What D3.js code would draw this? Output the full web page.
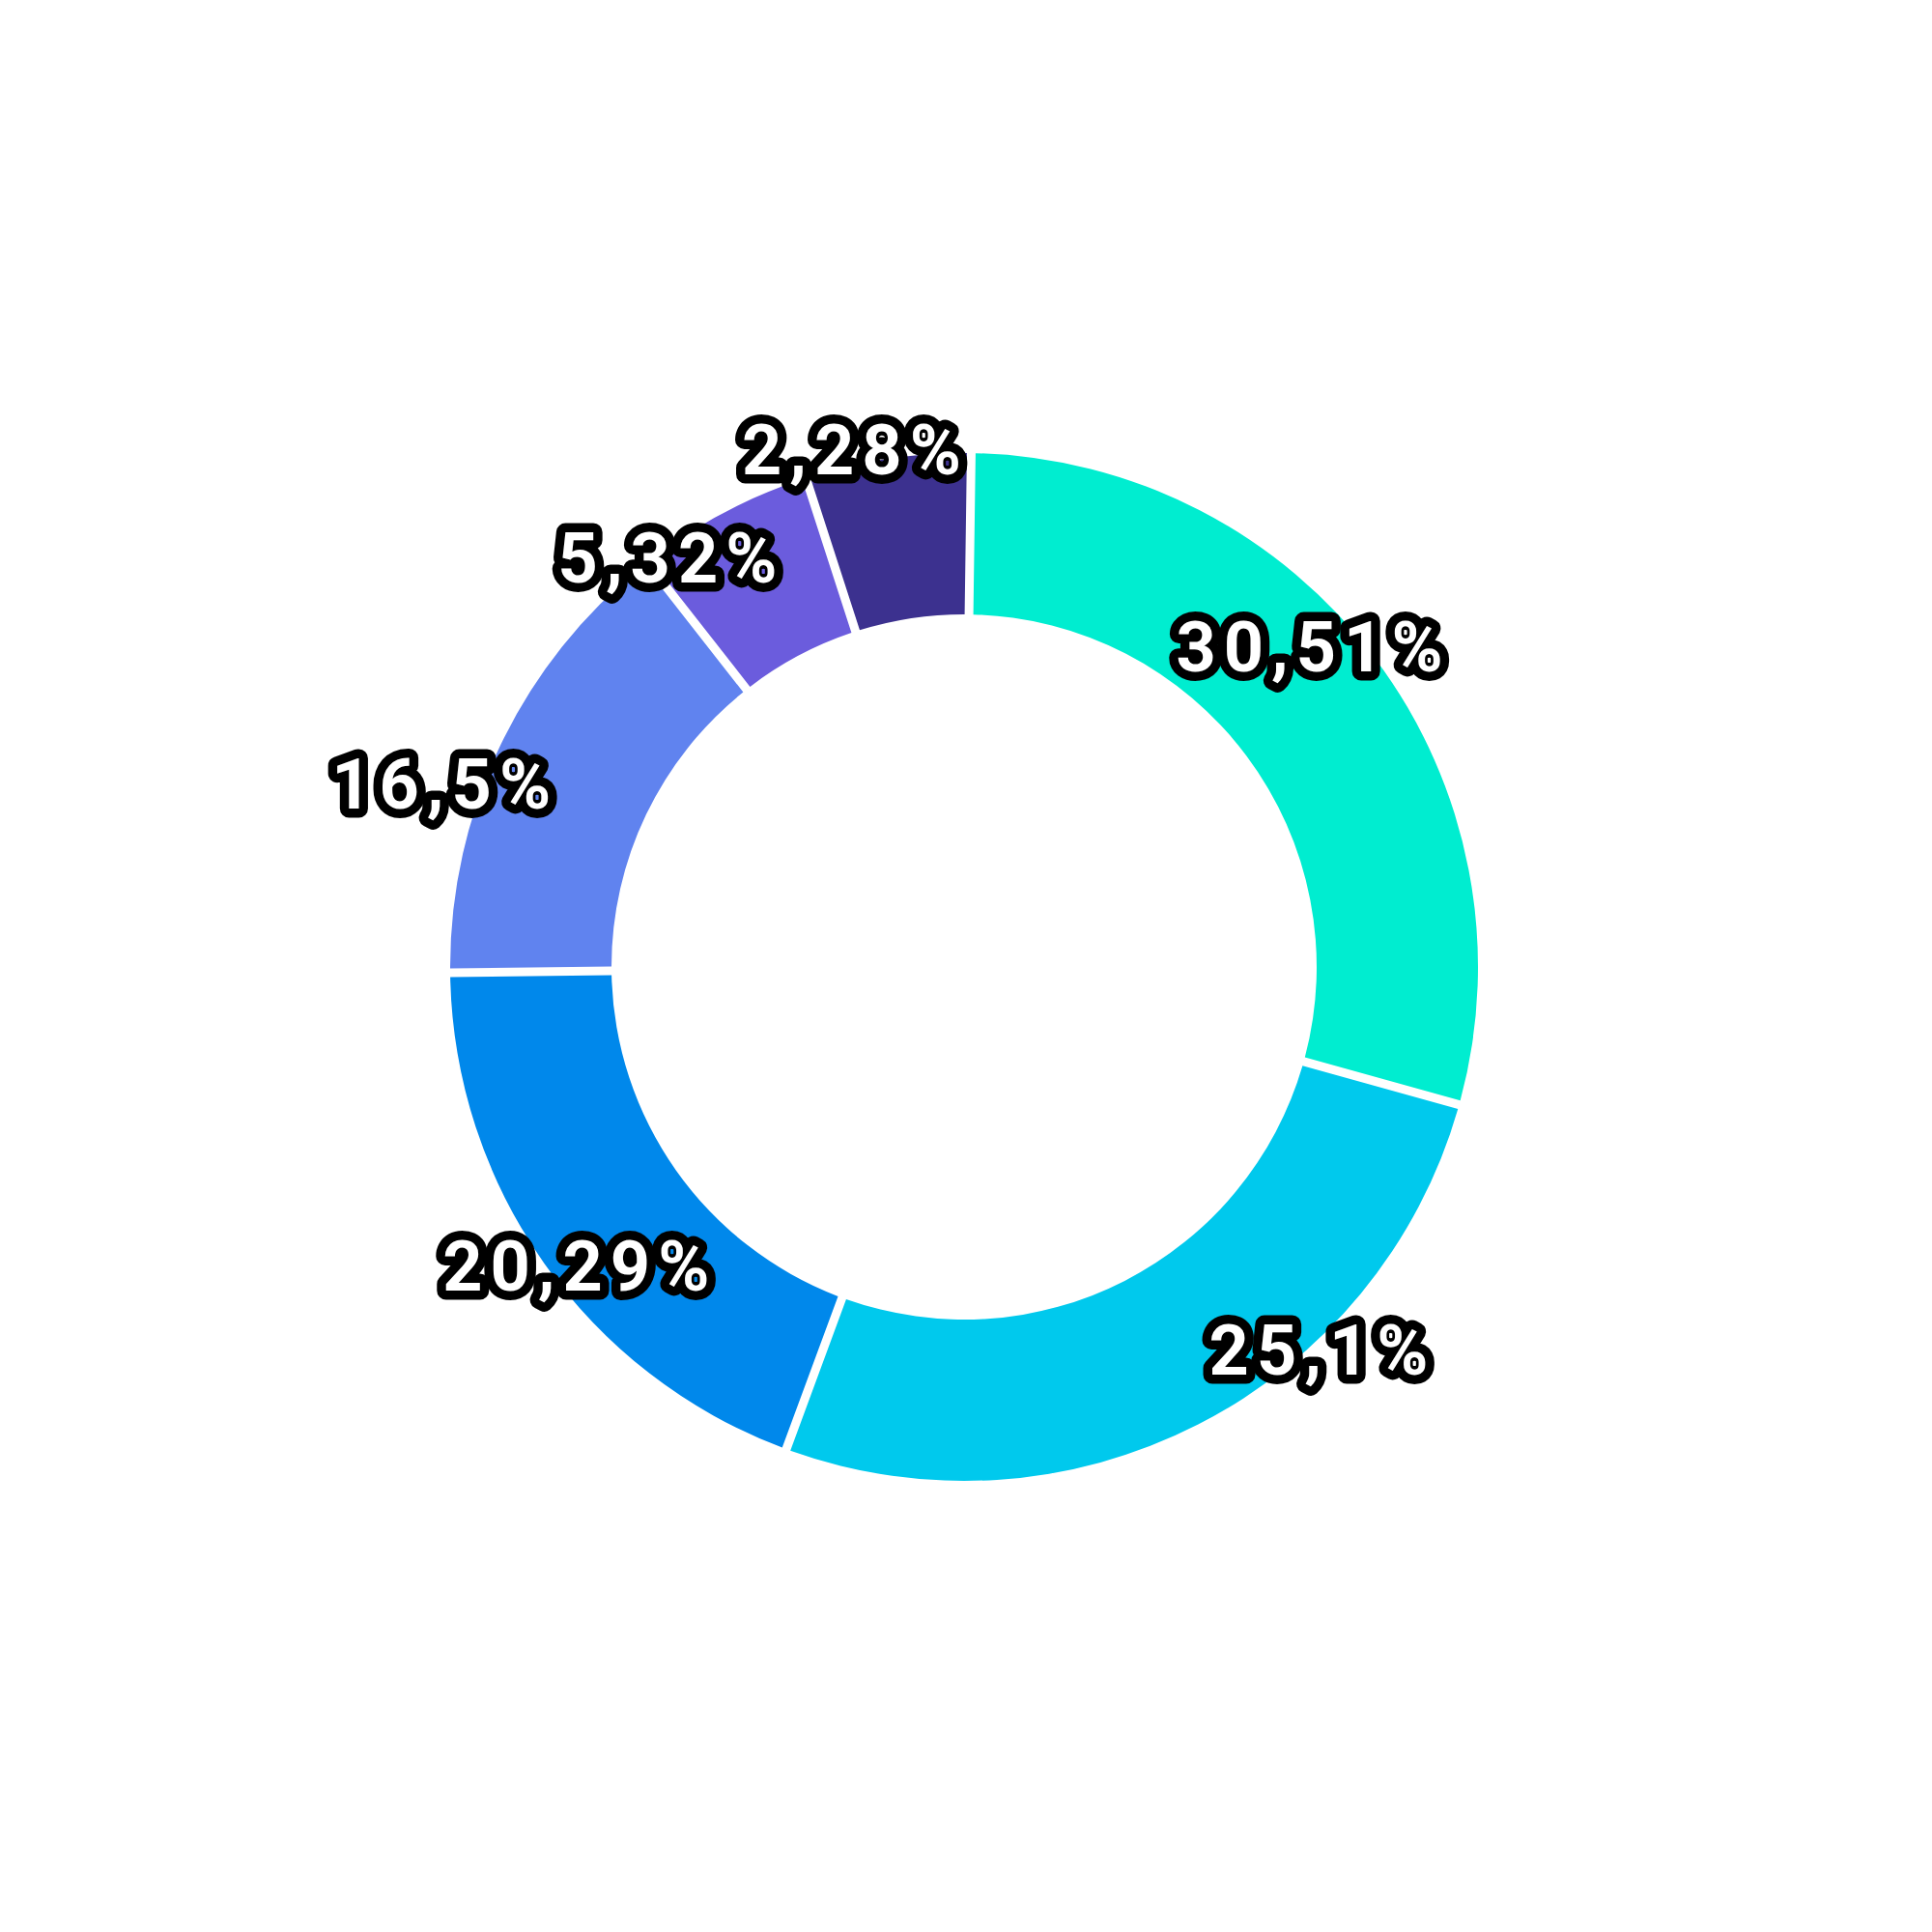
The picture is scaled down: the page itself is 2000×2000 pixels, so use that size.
<!DOCTYPE html>
<html><head><meta charset="utf-8">
<script src="https://cdn.jsdelivr.net/npm/d3@7"></script>
<style>
html,body{margin:0;padding:0;background:#fff;} svg{display:block;}
text.lbl{font-family:Roboto, "Liberation Sans", Arial, sans-serif;font-weight:bold;paint-order:stroke fill;}
</style>
</head><body>
<svg id="chart" width="2000" height="2000"></svg>
<script>
// Data (angular shares read from the drawn ring; label texts as printed)
const categories = ["S1","S2","S3","S4","S5","S6"];
const shares = [29.1, 26.3, 19.2, 14.6, 5.6, 5.2];
const labels = ["30,51%","25,1%","20,29%","16,5%","5,32%","2,28%"];
const colors = ["#00EDD0","#00C9ED","#0088EB","#6083EF","#6B5CDD","#3C318F"];

// Label placement (fraction along slice angle, radius)
const labelFrac = [0.445,0.331,0.461,0.383,0.125,0.324];
const labelRad = [491,543,504,570,521,548];

const W = 2000, H = 2000, cx = 998, cy = 1001, R = 532, r0 = 365;
const svg = d3.select("#chart");
const g = svg.append("g").attr("transform", `translate(${cx},${cy})`);

const data = categories.map((c,i)=>({cat:c, value:shares[i], label:labels[i], color:colors[i], i}));
const start = 0.8*Math.PI/180;
const pie = d3.pie().value(d=>d.value).sort(null).startAngle(start).endAngle(start+2*Math.PI);
const arcs = pie(data);
const arc = d3.arc().innerRadius(r0).outerRadius(R).padAngle(0.02).padRadius(450);

g.selectAll("path.slice").data(arcs).join("path")
  .attr("class","slice")
  .attr("d", arc)
  .attr("fill", d=>d.data.color);

const fs = 72;
const ang = d => d.startAngle + labelFrac[d.data.i]*(d.endAngle-d.startAngle);
g.selectAll("text.lbl").data(arcs).join("text")
  .attr("class","lbl")
  .attr("x", d=>labelRad[d.data.i]*Math.sin(ang(d)))
  .attr("y", d=>-labelRad[d.data.i]*Math.cos(ang(d)) + fs*0.36)
  .attr("text-anchor","middle")
  .attr("font-size", fs)
  .attr("letter-spacing", 8)
  .attr("fill","#fff")
  .attr("stroke","#000")
  .attr("stroke-width",19)
  .attr("stroke-linejoin","round")
  .text(d=>d.data.label);
</script>
</body></html>
